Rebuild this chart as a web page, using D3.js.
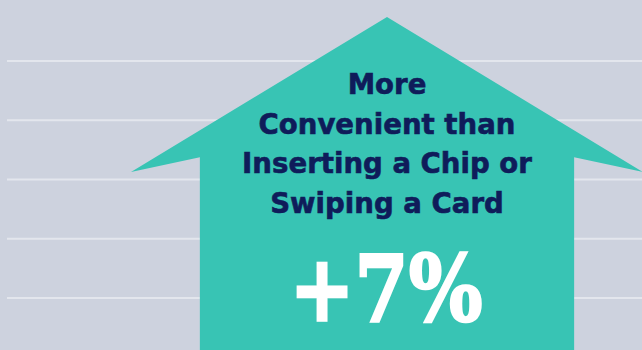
<!DOCTYPE html>
<html>
<head>
<meta charset="utf-8">
<script src="https://cdn.jsdelivr.net/npm/d3@7"></script>
<style>
  html, body { margin: 0; padding: 0; background: #cdd2de; }
  svg { display: block; }
</style>
</head>
<body>
<script>
(function(){

//chart values
var labelLines = ["More", "Convenient than", "Inserting a Chip or", "Swiping a Card"];
var changeValue = [7];
var gridLevels = [0, 1, 2, 3, 4];

//begin script when window loads
window.onload = drawChart();

function drawChart(){

    var width = 642,
        height = 350;

    var svg = d3.select("body")
        .append("svg")
        .attr("width", width)
        .attr("height", height);

    //background
    svg.append("rect")
        .attr("width", width)
        .attr("height", height)
        .attr("fill", "#cdd2de");

    //grid lines
    var y = d3.scaleLinear()
        .domain([0, 4])
        .range([298, 61]);

    svg.selectAll(".grid")
        .data(gridLevels)
        .enter()
        .append("line")
        .attr("class", "grid")
        .attr("x1", 7)
        .attr("x2", width)
        .attr("y1", function(d){ return y(d); })
        .attr("y2", function(d){ return y(d); })
        .attr("stroke", "#e3e6ed")
        .attr("stroke-width", 2);

    drawArrow(svg, width, height);
    drawText(svg);
};

function drawArrow(svg, width, height){

    //arrow geometry from a unit scale across the wings
    var x = d3.scaleLinear().domain([-1, 1]).range([131, 643]);
    var ay = d3.scaleLinear().domain([0, 1]).range([17, 172]);

    var bodyHalf = 0.731, //body half width as share of wing half width
        shoulder = 0.905;

    var pts = [
        [x(0), ay(0)],
        [x(1), ay(1)],
        [x(bodyHalf), ay(shoulder)],
        [x(bodyHalf), height],
        [x(-bodyHalf), height],
        [x(-bodyHalf), ay(shoulder)],
        [x(-1), ay(1)]
    ];

    svg.append("path")
        .attr("d", d3.line()(pts) + "Z")
        .attr("fill", "#38c4b4");
};

function drawText(svg){

    var cx = 387;

    //label lines
    svg.selectAll(".label")
        .data(labelLines)
        .enter()
        .append("text")
        .attr("class", "label")
        .attr("x", cx)
        .attr("y", function(d, i){ return 94 + i * 39.5; })
        .attr("text-anchor", "middle")
        .attr("font-family", "'DejaVu Sans', sans-serif")
        .attr("font-weight", "bold")
        .attr("font-size", 27.6)
        .attr("fill", "#0f1c5a")
        .attr("stroke", "#0f1c5a")
        .attr("stroke-width", 0.6)
        .text(function(d){ return d; });

    //big value
    svg.selectAll(".value")
        .data(changeValue)
        .enter()
        .append("text")
        .attr("class", "value")
        .attr("x", 386)
        .attr("y", 321)
        .attr("text-anchor", "middle")
        .attr("font-family", "'DejaVu Serif', serif")
        .attr("font-weight", "bold")
        .attr("font-size", 92)
        .attr("textLength", 193)
        .attr("lengthAdjust", "spacingAndGlyphs")
        .attr("fill", "#ffffff")
        .attr("stroke", "#ffffff")
        .attr("stroke-width", 2.5)
        .text(function(d){ return "+" + d + "%"; });
};

})();
</script>
</body>
</html>
